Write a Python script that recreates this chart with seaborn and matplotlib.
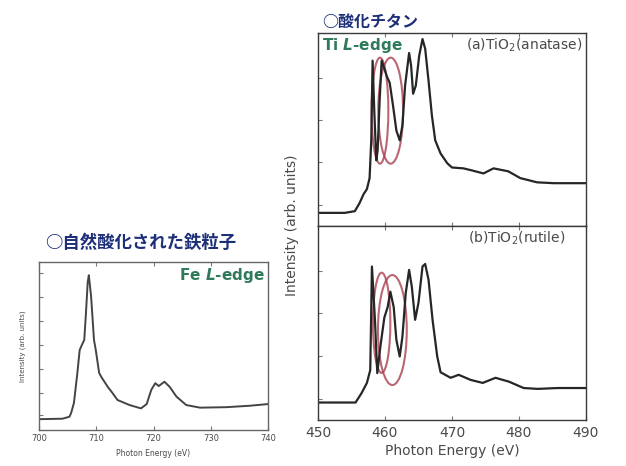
import matplotlib
matplotlib.use("Agg")
import matplotlib.pyplot as plt
from matplotlib.patches import Ellipse
import seaborn as sns
import pandas as pd

# Fe L-edge (naturally oxidised iron particles)
fe_energy = [700, 704.1, 705.3, 705.6, 706.1, 706.7, 707.1, 707.5, 707.9, 708.2,
             708.5, 708.7, 709.1, 709.6, 709.9, 710.5, 710.9, 712.0, 712.8, 713.7,
             715.2, 715.8, 717.8, 718.8, 719.6, 720.3, 720.9, 721.9, 722.8, 724.0,
             725.7, 728.1, 732.7, 736.8, 740]
fe_intensity = [0.45, 0.47, 0.55, 0.70, 1.13, 2.38, 3.33, 3.55, 3.75, 4.88,
                6.15, 6.45, 5.55, 3.75, 3.35, 2.38, 2.20, 1.80, 1.55, 1.25,
                1.10, 1.04, 0.90, 1.08, 1.67, 1.95, 1.83, 2.01, 1.80, 1.39,
                1.04, 0.93, 0.95, 1.01, 1.08]

# Ti L-edge, (a) anatase
ana_energy = [450, 454, 455.5, 456.2, 456.8, 457.3, 457.7, 457.95, 458.15, 458.4,
              458.7, 458.9, 459.2, 459.5, 459.9, 460.3, 460.7, 461.2, 461.7, 462.2,
              462.6, 463.0, 463.6, 463.9, 464.2, 464.6, 465.1, 465.6, 466.0, 466.5,
              467.0, 467.5, 468.3, 469.3, 470.0, 471.7, 473.0, 474.7, 476.2, 478.4,
              480.2, 482.7, 485.2, 490]
ana_intensity = [0.81, 0.81, 0.85, 1.04, 1.25, 1.37, 1.63, 2.52, 4.40, 3.22,
                 2.05, 2.28, 3.46, 4.40, 4.21, 4.02, 3.88, 3.34, 2.75, 2.52,
                 2.87, 3.81, 4.58, 4.28, 3.62, 3.81, 4.51, 4.91, 4.68, 3.93,
                 3.11, 2.52, 2.21, 1.98, 1.88, 1.86, 1.81, 1.74, 1.86, 1.79,
                 1.63, 1.53, 1.51, 1.51]

# Ti L-edge, (b) rutile
rut_energy = [450, 455.6, 456.5, 457.3, 457.8, 458.05, 458.5, 458.85, 459.3, 459.9,
              460.4, 460.8, 461.3, 461.7, 462.2, 462.6, 463.1, 463.6, 464.0, 464.5,
              465.0, 465.6, 466.0, 466.5, 467.1, 467.8, 468.3, 469.8, 471.0, 472.8,
              474.6, 476.5, 478.5, 480.7, 482.8, 485.8, 490]
rut_intensity = [0.91, 0.91, 1.13, 1.37, 1.67, 4.10, 2.85, 1.60, 2.21, 2.90,
                 3.15, 3.51, 3.15, 2.38, 1.99, 2.45, 3.48, 4.02, 3.63, 2.85,
                 3.25, 4.10, 4.16, 3.79, 2.85, 1.99, 1.62, 1.49, 1.56, 1.44,
                 1.37, 1.49, 1.40, 1.25, 1.23, 1.25, 1.25]

# highlighted regions (center x, center y, width, height)
ana_marks = [(459.25, 3.22, 2.5, 2.5), (460.85, 3.22, 3.7, 2.5)]
rut_marks = [(459.5, 2.78, 2.6, 2.35), (461.1, 2.61, 4.3, 2.58)]

fe_ticks = [700, 710, 720, 730, 740]
ti_ticks = [450, 460, 470, 480, 490]

sns.set_style("ticks")
plt.rcParams["font.family"] = ["DejaVu Sans", "Noto Sans CJK JP"]
plt.rcParams["mathtext.fontset"] = "custom"
plt.rcParams["mathtext.rm"] = "DejaVu Sans"
plt.rcParams["mathtext.it"] = "DejaVu Sans:italic:bold"

line_c = "#262626"
spine_c = "#3a3a3a"
txt_c = "#4a4a4a"
navy = "#1d2f78"
green = "#2f7a5a"
red = "#a8414f"
jp = ["Noto Sans CJK JP", "DejaVu Sans"]

fig = plt.figure(figsize=(6.26, 4.66), dpi=100)
fig.patch.set_facecolor("white")

ax_fe = fig.add_axes([0.0623, 0.0773, 0.366, 0.3605])
ax_a = fig.add_axes([0.508, 0.515, 0.428, 0.414])
ax_b = fig.add_axes([0.508, 0.0987, 0.428, 0.4163])


def style(ax, col=spine_c):
    for s in ax.spines.values():
        s.set_color(col)
        s.set_linewidth(1.0)
    ax.tick_params(direction="in", length=3, width=0.8, color="#777777",
                   top=True, labelcolor=txt_c)


# Fe panel
df_fe = pd.DataFrame({"energy": fe_energy, "intensity": fe_intensity})
sns.lineplot(data=df_fe, x="energy", y="intensity", ax=ax_fe, color="#444444", lw=1.4)
ax_fe.set_xlim(700, 740)
ax_fe.set_ylim(0, 7.0)
ax_fe.set_xticks(fe_ticks)
ax_fe.set_yticks([0.62, 1.55, 2.55, 3.55, 4.55, 5.55, 6.55])
ax_fe.set_yticklabels([])
style(ax_fe, "#666666")
ax_fe.tick_params(axis="x", labelsize=6, pad=3)
ax_fe.set_xlabel("Photon Energy (eV)", fontsize=5.5, color=txt_c, labelpad=4)
ax_fe.set_ylabel("Intensity (arb. units)", fontsize=5, color=txt_c, labelpad=6)
ax_fe.text(0.985, 0.92, "Fe $L$-edge", transform=ax_fe.transAxes, ha="right",
           va="center", fontsize=11, fontweight="bold", color=green)
fig.text(0.072, 0.479, "○自然酸化された鉄粒子", family=jp, fontsize=12.5,
         fontweight="bold", color=navy, va="center", ha="left")

# Ti panels
df_a = pd.DataFrame({"energy": ana_energy, "intensity": ana_intensity})
df_b = pd.DataFrame({"energy": rut_energy, "intensity": rut_intensity})
sns.lineplot(data=df_a, x="energy", y="intensity", ax=ax_a, color=line_c, lw=1.6)
sns.lineplot(data=df_b, x="energy", y="intensity", ax=ax_b, color=line_c, lw=1.6)

for ax, marks in ((ax_a, ana_marks), (ax_b, rut_marks)):
    ax.set_xlim(450, 490)
    ax.set_ylim(0.5, 5.05)
    ax.set_xticks(ti_ticks)
    ax.set_yticks([1, 2, 3, 4])
    ax.set_yticklabels([])
    style(ax)
    ax.set_ylabel("")
    for cx, cy, w, h in marks:
        ax.add_patch(Ellipse((cx, cy), w, h, fill=False, ec=red, lw=1.5, alpha=0.8))

ax_a.set_xticklabels([])
ax_a.set_xlabel("")
ax_b.tick_params(axis="x", labelsize=10, pad=4)
ax_b.set_xlabel("Photon Energy (eV)", fontsize=10, color=txt_c, labelpad=3)
fig.text(0.466, 0.517, "Intensity (arb. units)", rotation=90, fontsize=10,
         color=txt_c, ha="center", va="center")

ax_a.text(0.015, 0.935, "Ti $L$-edge", transform=ax_a.transAxes, ha="left",
          va="center", fontsize=11, fontweight="bold", color=green)
ax_a.text(0.985, 0.935, "(a)TiO$_2$(anatase)", transform=ax_a.transAxes,
          ha="right", va="center", fontsize=10, color=txt_c)
ax_b.text(0.925, 0.935, "(b)TiO$_2$(rutile)", transform=ax_b.transAxes,
          ha="right", va="center", fontsize=10, color=txt_c)
fig.text(0.515, 0.953, "○酸化チタン", family=jp, fontsize=11.5,
         fontweight="bold", color=navy, va="center", ha="left")

fig.savefig("out.png", dpi=100)
